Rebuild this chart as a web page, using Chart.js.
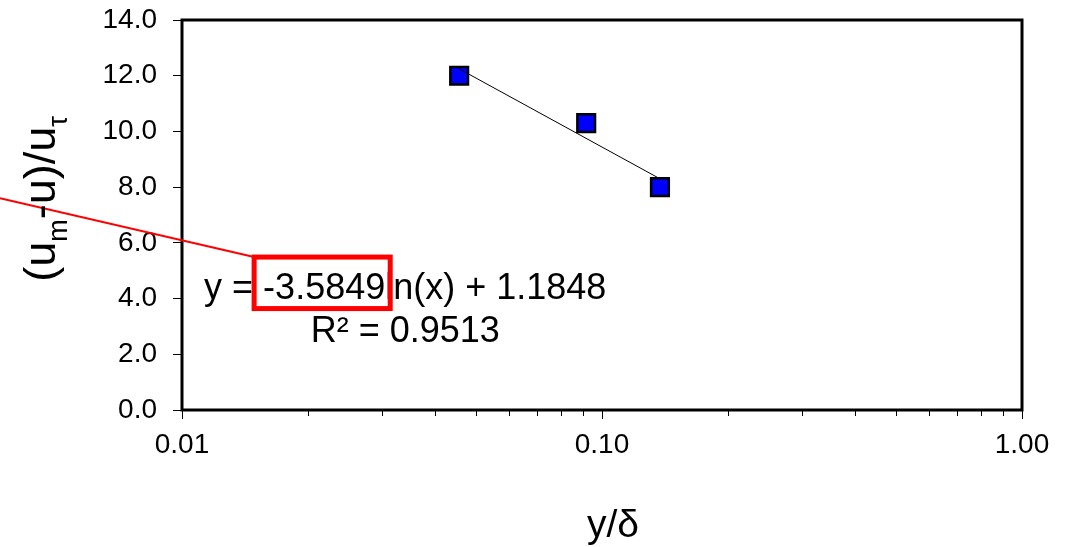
<!DOCTYPE html>
<html>
<head>
<meta charset="utf-8">
<script src="https://cdn.jsdelivr.net/npm/chart.js@4.4.1/dist/chart.umd.min.js"></script>
<style>
  html, body { margin: 0; padding: 0; background: #ffffff; }
  #wrap { width: 1066px; height: 547px; position: relative; }
</style>
</head>
<body>
<div id="wrap"><canvas id="c" width="1066" height="547"></canvas></div>
<script>
// Measured points: wall distance y/δ and velocity defect (u_m - u)/u_τ
const yOverDelta = [0.0457, 0.0917, 0.1374];
const velocityDefect = [12.0, 10.3, 8.0];

// Axis ticks
const xTickValues = [0.01, 0.1, 1];
const yTickValues = [0, 2, 4, 6, 8, 10, 12, 14];

// Logarithmic fit  y = a·ln(x) + b
const fitSlope = -3.5849;
const fitIntercept = 1.1848;
const fitR2 = 0.9513;

const FONT = '"Liberation Sans", Arial, Helvetica, sans-serif';
Chart.defaults.font.family = FONT;
Chart.defaults.color = '#000000';

const points = yOverDelta.map((x, i) => ({ x: x, y: velocityDefect[i] }));
const xMin = Math.min(...yOverDelta);
const xMax = Math.max(...yOverDelta);
const fitLine = [xMin, xMax].map(x => ({ x: x, y: fitSlope * Math.log(x) + fitIntercept }));

const eqLine1 = 'y = ' + fitSlope.toFixed(4) + 'ln(x) + ' + fitIntercept.toFixed(4);
const eqLine2 = 'R\u00B2 = ' + fitR2.toFixed(4);

const decorations = {
  id: 'decorations',
  afterDraw(chart) {
    const ctx = chart.ctx;
    const a = chart.chartArea;
    const xs = chart.scales.x;
    const ys = chart.scales.y;
    ctx.save();

    // plot frame
    ctx.strokeStyle = '#000000';
    ctx.lineWidth = 3;
    ctx.strokeRect(a.left, a.top, a.right - a.left, a.bottom - a.top);

    // minor tick marks on the log axis
    ctx.lineWidth = 1;
    ctx.beginPath();
    for (let d = 0; d < xTickValues.length - 1; d++) {
      for (let k = 2; k <= 9; k++) {
        const px = Math.round(xs.getPixelForValue(k * xTickValues[d])) + 0.5;
        ctx.moveTo(px, a.bottom);
        ctx.lineTo(px, a.bottom + 6);
      }
    }
    ctx.stroke();

    // trendline equation
    const cx = xs.getPixelForValue(0.034);
    const by = ys.getPixelForValue(4.0);
    ctx.font = '36px ' + FONT;
    ctx.fillStyle = '#000000';
    ctx.textBaseline = 'alphabetic';
    ctx.textAlign = 'center';
    ctx.fillText(eqLine1, cx, by);
    ctx.fillText(eqLine2, cx, by + 43);

    // highlight around the slope coefficient
    const w1 = ctx.measureText(eqLine1).width;
    const start = cx - w1 / 2;
    const pre = ctx.measureText('y = ').width;
    const num = ctx.measureText(fitSlope.toFixed(4)).width;
    const bx0 = start + pre - 9;
    const bx1 = start + pre + num + 5;
    const by0 = by - 41.5;
    const by1 = by + 10;
    ctx.strokeStyle = '#FF0000';
    ctx.lineWidth = 5;
    ctx.strokeRect(bx0, by0, bx1 - bx0, by1 - by0);

    // pointer line leading off to the left
    ctx.lineWidth = 2;
    ctx.beginPath();
    ctx.moveTo(bx0, by0);
    ctx.lineTo(0, by0 - bx0 * 0.232);
    ctx.stroke();

    // x-axis title
    ctx.fillStyle = '#000000';
    ctx.font = '39px ' + FONT;
    ctx.textAlign = 'center';
    ctx.fillText('y/\u03B4', (a.left + a.right) / 2 + 11, 537);

    // y-axis title with subscripts
    const parts = [
      ['(u', 45, 0],
      ['m', 27, 12],
      ['-u)/u', 45, 0],
      ['\u03C4', 27, 12]
    ];
    let total = 0;
    parts.forEach(p => { ctx.font = p[1] + 'px ' + FONT; total += ctx.measureText(p[0]).width; });
    ctx.translate(55, 199);
    ctx.rotate(-Math.PI / 2);
    ctx.textAlign = 'left';
    let pos = -total / 2;
    parts.forEach(p => {
      ctx.font = p[1] + 'px ' + FONT;
      ctx.fillText(p[0], pos, p[2]);
      pos += ctx.measureText(p[0]).width;
    });

    ctx.restore();
  }
};

new Chart(document.getElementById('c'), {
  type: 'scatter',
  data: {
    datasets: [
      {
        label: 'Log. fit',
        data: fitLine,
        showLine: true,
        borderColor: '#000000',
        borderWidth: 1,
        pointRadius: 0,
        fill: false
      },
      {
        label: 'Data',
        data: points,
        showLine: false,
        pointStyle: 'rect',
        pointRadius: 12.5,
        backgroundColor: '#0000FF',
        borderColor: '#000000',
        borderWidth: 2.5
      }
    ]
  },
  options: {
    responsive: false,
    devicePixelRatio: 1,
    animation: false,
    events: [],
    layout: { padding: { left: 0, right: 44, top: 20, bottom: 0 } },
    plugins: {
      legend: { display: false },
      tooltip: { enabled: false }
    },
    scales: {
      x: {
        type: 'logarithmic',
        position: 'bottom',
        min: 0.01,
        max: 1,
        afterBuildTicks: s => { s.ticks = xTickValues.map(v => ({ value: v })); },
        afterFit: s => { s.height = 137; },
        ticks: {
          autoSkip: false,
          maxRotation: 0,
          padding: 9,
          color: '#000000',
          font: { size: 28 },
          callback: v => Number(v).toFixed(2)
        },
        grid: {
          display: true,
          drawOnChartArea: false,
          drawTicks: true,
          tickLength: 9,
          tickColor: '#000000',
          tickWidth: 1
        },
        border: { display: false }
      },
      y: {
        type: 'linear',
        min: 0,
        max: 14,
        afterBuildTicks: s => { s.ticks = yTickValues.map(v => ({ value: v })); },
        afterFit: s => { s.width = 182; s.paddingTop = 0; s.paddingBottom = 0; },
        ticks: {
          padding: 16,
          color: '#000000',
          font: { size: 28 },
          callback: v => Number(v).toFixed(1)
        },
        grid: {
          display: true,
          drawOnChartArea: false,
          drawTicks: true,
          tickLength: 9,
          tickColor: '#000000',
          tickWidth: 1
        },
        border: { display: false }
      }
    }
  },
  plugins: [decorations]
});
</script>
</body>
</html>
